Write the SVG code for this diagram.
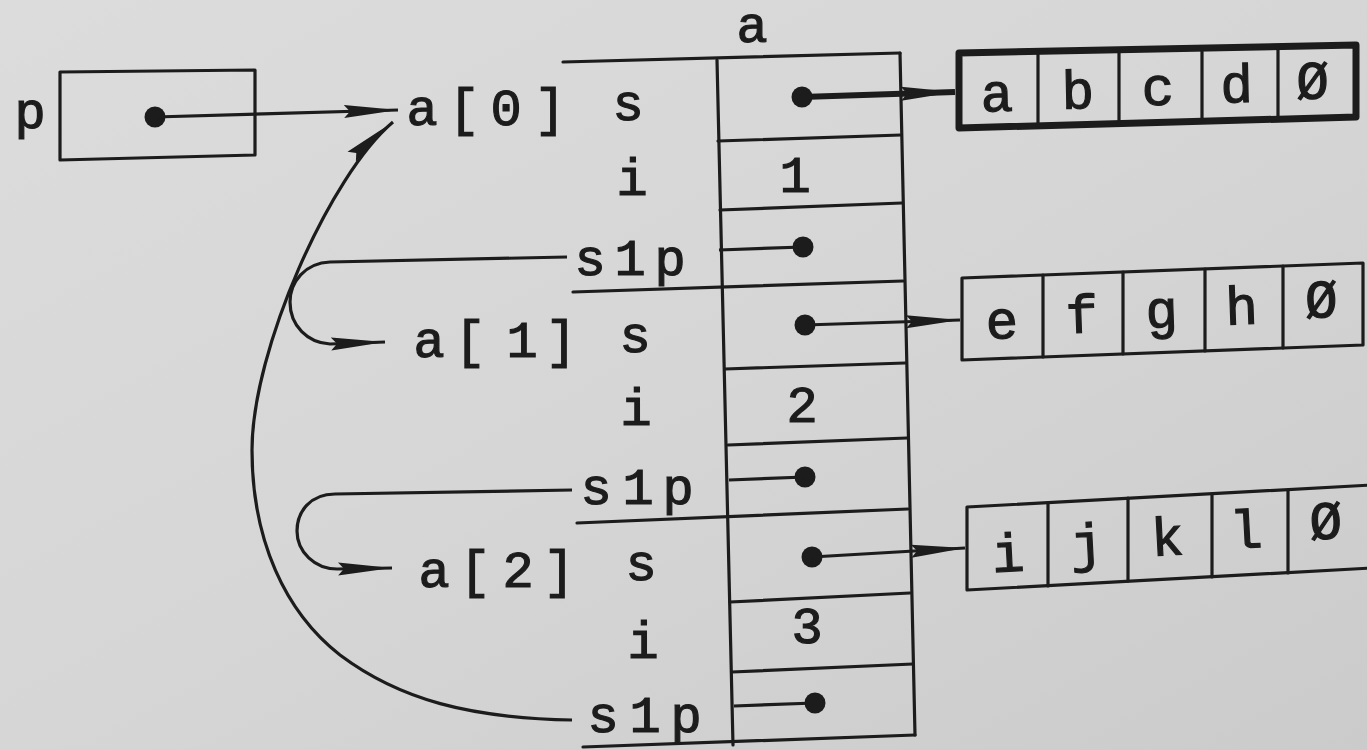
<svg xmlns="http://www.w3.org/2000/svg" width="1367" height="750" viewBox="0 0 1367 750">
  <defs>
    <linearGradient id="paper" x1="0" y1="0" x2="1" y2="1">
      <stop offset="0" stop-color="#dcdcdc"/>
      <stop offset="0.5" stop-color="#d6d6d6"/>
      <stop offset="1" stop-color="#cbcbcb"/>
    </linearGradient>
    <marker id="ah" markerUnits="userSpaceOnUse" markerWidth="60" markerHeight="18" viewBox="0 0 60 18" refX="54" refY="9" orient="auto">
      <path d="M0,2.5 L54,9 L0,15.5 L6,9 Z" fill="#1c1c1c"/>
    </marker>
    <marker id="ahb" markerUnits="userSpaceOnUse" markerWidth="60" markerHeight="20" viewBox="0 0 60 20" refX="54" refY="10" orient="auto">
      <path d="M0,3 L54,10 L0,17 L6,10 Z" fill="#1c1c1c"/>
    </marker>
    <style>
      .ln { stroke: #1c1c1c; stroke-width: 3.2; fill: none; stroke-linecap: round; }
      .thick { stroke: #1c1c1c; stroke-width: 7; fill: none; stroke-linejoin: round; }
      .cell { stroke: #1c1c1c; stroke-width: 3.2; fill: none; stroke-linejoin: round; }
      .dot { fill: #1c1c1c; }
      .t { font-family: "Courier New", "Liberation Mono", monospace; font-size: 52px; fill: #1c1c1c; stroke: #1c1c1c; stroke-width: 1.2; text-anchor: middle; }
      .c { font-family: "Courier New", "Liberation Mono", monospace; font-size: 54px; fill: #1c1c1c; stroke: #1c1c1c; stroke-width: 1.2; text-anchor: middle; }
      .con { stroke: #1c1c1c; stroke-width: 3.2; fill: none; }
    </style>
  </defs>
  <rect x="0" y="0" width="1367" height="750" fill="url(#paper)"/>

  <g id="node-p">
    <text class="t" x="30" y="128">p</text>
    <path class="cell" d="M60,72 L255,70 L255,155 L60,160 Z"/>
    <circle class="dot" cx="155" cy="117" r="10.5"/>
  </g>

  <g id="node-a">
    <text class="t" x="752" y="42">a</text>
    <line class="ln" x1="717" y1="60" x2="733" y2="745"/>
    <line class="ln" x1="900" y1="53" x2="915" y2="735"/>
    <line class="ln" x1="563" y1="62" x2="900" y2="53"/>
    <line class="ln" x1="718" y1="141" x2="901" y2="135"/>
    <line class="ln" x1="720" y1="210" x2="902" y2="203"/>
    <line class="ln" x1="573" y1="292" x2="903" y2="281"/>
    <line class="ln" x1="725" y1="369" x2="905" y2="363"/>
    <line class="ln" x1="728" y1="445" x2="907" y2="438"/>
    <line class="ln" x1="577" y1="523" x2="908" y2="509"/>
    <line class="ln" x1="730" y1="602" x2="910" y2="593"/>
    <line class="ln" x1="732" y1="672" x2="913" y2="664"/>
    <line class="ln" x1="583" y1="747" x2="915" y2="735"/>
    <text class="t" x="795" y="192">1</text>
    <text class="t" x="802" y="422">2</text>
    <text class="t" x="807" y="643">3</text>
  </g>

  <g id="node-a0">
    <text class="t" x="422 464 506 550" y="125">a[0]</text>
    <text class="t" x="628" y="120">s</text>
    <text class="t" x="632" y="195">i</text>
    <text class="t" x="590 630 670" y="275">s1p</text>
    <circle class="dot" cx="802" cy="97" r="10.5"/>
    <circle class="dot" cx="803" cy="247" r="10.5"/>
  </g>

  <g id="node-a1">
    <text class="t" x="429 470 522 561" y="357">a[1]</text>
    <text class="t" x="635" y="352">s</text>
    <text class="t" x="636" y="425">i</text>
    <text class="t" x="596 638 678" y="504">s1p</text>
    <circle class="dot" cx="805" cy="325" r="10.5"/>
    <circle class="dot" cx="805" cy="477" r="10.5"/>
  </g>

  <g id="node-a2">
    <text class="t" x="434 475 518 559" y="587">a[2]</text>
    <text class="t" x="641" y="580">s</text>
    <text class="t" x="643" y="658">i</text>
    <text class="t" x="603 645 686" y="732">s1p</text>
    <circle class="dot" cx="812" cy="557" r="10.5"/>
    <circle class="dot" cx="815" cy="703" r="10.5"/>
  </g>

  <g id="node-str0">
    <path class="thick" d="M959,53 L1356,45 L1356,117 L959,128 Z"/>
    <line class="ln" x1="1038" y1="51" x2="1038" y2="126"/>
    <line class="ln" x1="1119" y1="50" x2="1119" y2="124"/>
    <line class="ln" x1="1202" y1="48" x2="1202" y2="121"/>
    <line class="ln" x1="1278" y1="47" x2="1278" y2="119"/>
    <g transform="rotate(-1.2 1150 100)">
      <text class="c" x="997" y="108">a</text>
      <text class="c" x="1078" y="107">b</text>
      <text class="c" x="1158" y="105">c</text>
      <text class="c" x="1237" y="104">d</text>
      <text class="c" x="1313" y="102">Ø</text>
    </g>
  </g>

  <g id="node-str1">
    <path class="cell" d="M962,278 L1363,263 L1363,345 L962,360 Z"/>
    <line class="ln" x1="1043" y1="275" x2="1043" y2="357"/>
    <line class="ln" x1="1123" y1="272" x2="1123" y2="354"/>
    <line class="ln" x1="1205" y1="269" x2="1205" y2="351"/>
    <line class="ln" x1="1283" y1="266" x2="1283" y2="348"/>
    <g transform="rotate(-2 1160 320)">
      <text class="c" x="1002" y="333">e</text>
      <text class="c" x="1082" y="330">f</text>
      <text class="c" x="1162" y="328">g</text>
      <text class="c" x="1242" y="327">h</text>
      <text class="c" x="1322" y="323">Ø</text>
    </g>
  </g>

  <g id="node-str2">
    <path class="cell" d="M967,507 L1372,485 L1372,568 L967,590 Z"/>
    <line class="ln" x1="1048" y1="503" x2="1048" y2="586"/>
    <line class="ln" x1="1128" y1="498" x2="1128" y2="581"/>
    <line class="ln" x1="1212" y1="494" x2="1212" y2="577"/>
    <line class="ln" x1="1288" y1="490" x2="1288" y2="573"/>
    <g transform="rotate(-3 1170 550)">
      <text class="c" x="1008" y="563">i</text>
      <text class="c" x="1087" y="557">j</text>
      <text class="c" x="1168" y="555">k</text>
      <text class="c" x="1247" y="552">l</text>
      <text class="c" x="1327" y="547">Ø</text>
    </g>
  </g>

  <g id="connectors">
    <path class="con" d="M155,117 L398,110" marker-end="url(#ah)"/>
    <path class="con" d="M802,97 L955,92" style="stroke-width:6" marker-end="url(#ahb)"/>
    <path class="con" d="M805,325 L960,320" marker-end="url(#ah)"/>
    <path class="con" d="M812,557 L965,548" marker-end="url(#ah)"/>
    <path class="con" d="M719,250 L803,247"/>
    <path class="con" d="M729,480 L805,477"/>
    <path class="con" d="M734,706 L815,703"/>
    <path class="con" d="M567,257 L330,262 C305,263 290,282 290,302 C290,326 308,343 330,344 L385,342" marker-end="url(#ah)"/>
    <path class="con" d="M572,490 L335,494 C310,494 297,512 297,531 C297,552 315,569 337,569 L392,568" marker-end="url(#ah)"/>
    <path class="con" d="M572,720 C470,718 400,700 340,655 C285,612 252,540 252,450 C252,350 330,175 393,122" marker-end="url(#ah)"/>
  </g>
</svg>
